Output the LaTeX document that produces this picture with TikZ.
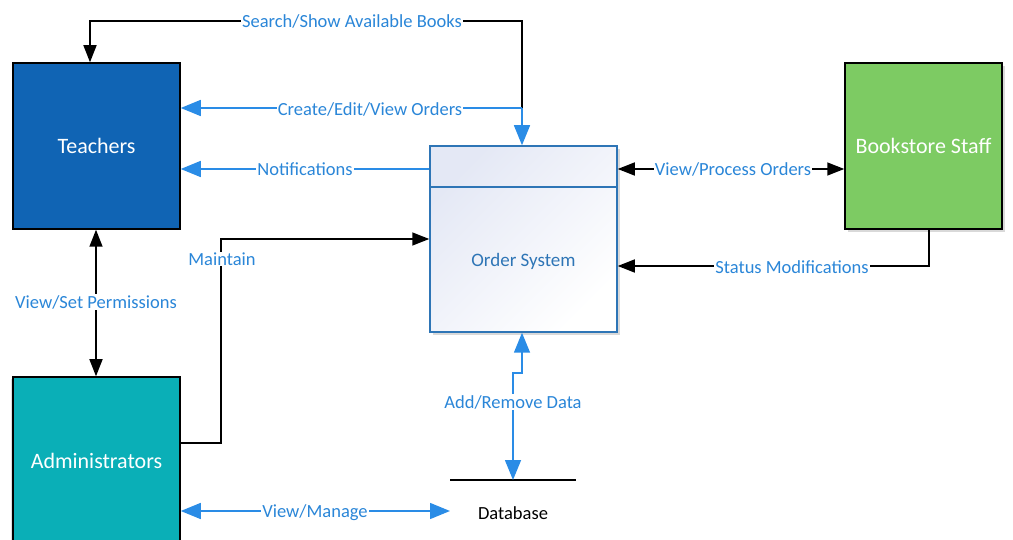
\documentclass[tikz,border=0pt]{standalone}
\usepackage{fontspec}
\setmainfont{Carlito}
\usetikzlibrary{arrows.meta,shadows,calc}
\definecolor{teachblue}{RGB}{16,100,180}
\definecolor{admincyan}{RGB}{10,175,183}
\definecolor{staffgreen}{RGB}{125,203,99}
\definecolor{lineblue}{RGB}{42,140,230}
\definecolor{lblblue}{RGB}{42,134,216}
\definecolor{orderborder}{RGB}{46,117,182}
\definecolor{lav}{RGB}{228,232,245}
\tikzset{
  tri/.tip={Triangle[length=17pt,width=13pt]},
  btri/.tip={Triangle[length=20pt,width=16pt,color=lineblue]},
  entity/.style={draw=black, line width=1.5pt, text=white, font=\fontsize{22}{26}\selectfont, inner sep=0pt},
  blk/.style={draw=black, line width=1.5pt},
  bln/.style={draw=lineblue, line width=1.5pt},
  lbl/.style={fill=white, text=lblblue, font=\fontsize{18.5}{22}\selectfont, inner sep=1pt},
}
\begin{document}
\begin{tikzpicture}[x=1pt,y=-1pt]
\useasboundingbox (0,0) rectangle (1013,540);
% entities
\node[entity, fill=teachblue, minimum width=167pt, minimum height=166pt] (teach) at (96.5,146) {Teachers};
\node[entity, fill=admincyan, minimum width=167pt, minimum height=168pt, drop shadow={opacity=0.25,shadow xshift=-2pt,shadow yshift=-2pt}] (admin) at (96.5,461) {Administrators};
\node[entity, fill=staffgreen, minimum width=157pt, minimum height=166pt, drop shadow={opacity=0.3,shadow xshift=3pt,shadow yshift=-3pt}] (staff) at (923.5,146) {Bookstore Staff};
% order system
\node[draw=orderborder, line width=1.5pt, minimum width=187pt, minimum height=186pt, inner sep=0pt,
  top color=lav, bottom color=white, shading angle=45,
  drop shadow={opacity=0.3,shadow xshift=3pt,shadow yshift=-3pt}] (order) at (523.5,239) {};
\coordinate (cl) at (0,187);
\draw[draw=orderborder, line width=1.5pt] (order.west |- cl) -- (order.east |- cl);
\node[text=orderborder, font=\fontsize{19}{22}\selectfont] (ordertxt) at (523.5,261) {Order System};
% database
\coordinate (dbl) at (450,480);
\coordinate (dbr) at (576,480);
\coordinate (dbtop) at (513,480);
\draw[blk] (dbl) -- (dbr);
\node[font=\fontsize{18.5}{22}\selectfont] (db) at (513,513) {Database};

% coordinates
\coordinate (j1) at (522,108);
\coordinate (t1) at (522,21);
\coordinate (t2) at (90,21);
\coordinate (tx) at (90,0);
\coordinate (ox) at (522,0);
\coordinate (y169) at (0,169);
\coordinate (y108) at (0,108);
\coordinate (y266) at (0,266);
\coordinate (y239) at (0,239);
\coordinate (y443) at (0,443);
\coordinate (y511) at (0,511);
\coordinate (sx) at (929,0);
\coordinate (m1) at (221,443);
\coordinate (m2) at (221,239);
\coordinate (a1) at (513,373);
\coordinate (a2) at (522,373);
\coordinate (vm) at (450,511);
\coordinate (px) at (96,0);

% Search / Show Available Books
\draw[blk, -{tri}] (j1) -- (t1) -- (t2) -- (teach.north -| tx);
\node[lbl] (l1) at (352,21) {Search/Show Available Books};
% Create/Edit/View Orders
\draw[bln, -{btri}] (j1) -- (teach.east |- y108);
\draw[bln, -{btri}] (j1) -- (order.north -| ox);
\node[lbl] (l2) at (370,109) {Create/Edit/View Orders};
% Notifications
\draw[bln, -{btri}] (order.west |- y169) -- (teach.east |- y169);
\node[lbl] (l3) at (305,169) {Notifications};
% View/Process Orders
\draw[blk, {tri}-{tri}] (order.east |- y169) -- (staff.west |- y169);
\node[lbl] (l4) at (733,169) {View/Process Orders};
% Status Modifications
\draw[blk, -{tri}] (staff.south -| sx) -- (sx |- y266) -- (order.east |- y266);
\node[lbl] (l5) at (792,267) {Status Modifications};
% Maintain
\draw[blk, -{tri}] (admin.east |- y443) -- (m1) -- (m2) -- (order.west |- y239);
\node[lbl] (l6) at (222,259) {Maintain};
% View/Set Permissions
\draw[blk, {tri}-{tri}] (teach.south -| px) -- (admin.north -| px);
\node[lbl] (l7) at (96,302) {View/Set Permissions};
% Add/Remove Data
\draw[bln, {btri}-{btri}] (dbtop) -- (a1) -- (a2) -- (order.south -| ox);
\node[lbl] (l8) at (513,402) {Add/Remove Data};
% View/Manage
\draw[bln, {btri}-{btri}] (admin.east |- y511) -- (vm);
\node[lbl] (l9) at (315,513) {View/Manage};
\end{tikzpicture}
\end{document}
